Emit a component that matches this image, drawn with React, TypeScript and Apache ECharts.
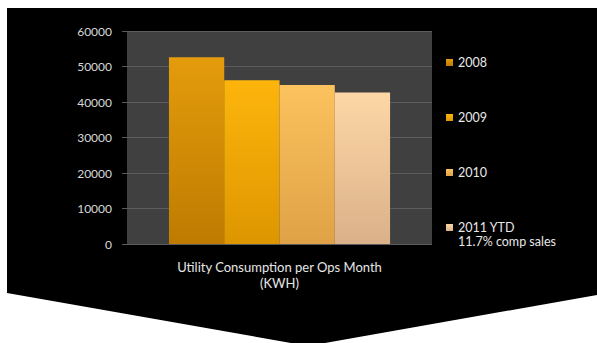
import React, { useEffect, useRef } from "react";
import * as echarts from "echarts";

const categories = ["Utility Consumption per Ops Month\n(KWH)"];
const seriesNames = ["2008", "2009", "2010", "2011 YTD"];
const values2008 = [52600];
const values2009 = [46100];
const values2010 = [44800];
const values2011 = [42700];
const yTicks = [0, 10000, 20000, 30000, 40000, 50000, 60000];
const legendNote = "11.7% comp sales";

const barColors: [string, string][] = [
  ["#e49c0c", "#be7b00"],
  ["#fdb50c", "#de9600"],
  ["#fbc25e", "#dfa246"],
  ["#fdd7a6", "#dab189"],
];

export default function App() {
  const ref = useRef<HTMLDivElement>(null);
  useEffect(() => {
    document.body.style.margin = "0";
    const chart = echarts.init(ref.current!, undefined, { renderer: "svg" });
    const data = [values2008, values2009, values2010, values2011];
    const font = "Lato, 'Open Sans', sans-serif";
    const legendTops = [56, 111, 166, 221];
    chart.setOption({
      animation: false,
      backgroundColor: "#ffffff",
      graphic: [
        {
          type: "polygon",
          z: -10,
          silent: true,
          shape: {
            points: [
              [7, 8],
              [597, 8],
              [597, 295],
              [308, 346],
              [7, 293],
            ],
          },
          style: { fill: "#000000" },
        },
        {
          type: "text",
          left: 458,
          top: 235,
          style: {
            text: legendNote,
            fill: "#e8e8e8",
            font: `12.5px ${font}`,
          },
        },
      ],
      grid: {
        left: 127,
        top: 31,
        right: 165,
        bottom: 99,
        show: true,
        backgroundColor: "#404040",
        borderWidth: 0,
      },
      legend: seriesNames.map((n, i) => ({
        data: [n],
        left: 446,
        top: legendTops[i],
        padding: 0,
        orient: "vertical",
        icon: "rect",
        itemWidth: 7,
        itemHeight: 7,
        textStyle: { color: "#e8e8e8", fontSize: 12.5, fontFamily: font },
        selectedMode: false,
      })),
      xAxis: {
        type: "category",
        data: categories,
        axisLine: { show: false },
        axisTick: { show: false },
        axisLabel: {
          color: "#e6e6e6",
          fontSize: 13,
          fontFamily: font,
          lineHeight: 16,
          margin: 15,
        },
      },
      yAxis: {
        type: "value",
        min: yTicks[0],
        max: yTicks[yTicks.length - 1],
        interval: 10000,
        axisLine: { show: false },
        axisTick: { show: true, length: 5, lineStyle: { color: "#5a5a5a" } },
        splitLine: { show: true, lineStyle: { color: "#5c5c5c", width: 1 } },
        axisLabel: {
          color: "#d8d8d8",
          fontSize: 12,
          fontFamily: font,
          margin: 15,
          formatter: (v: number) => String(v),
        },
      },
      series: seriesNames.map((n, i) => ({
        type: "bar",
        name: n,
        data: data[i],
        barGap: "0%",
        barCategoryGap: "27.5%",
        itemStyle: {
          color: new echarts.graphic.LinearGradient(0, 0, 0, 1, [
            { offset: 0, color: barColors[i][0] },
            { offset: 1, color: barColors[i][1] },
          ]),
        },
      })),
    });
    return () => chart.dispose();
  }, []);
  return <div ref={ref} style={{ width: 597, height: 343 }} />;
}
